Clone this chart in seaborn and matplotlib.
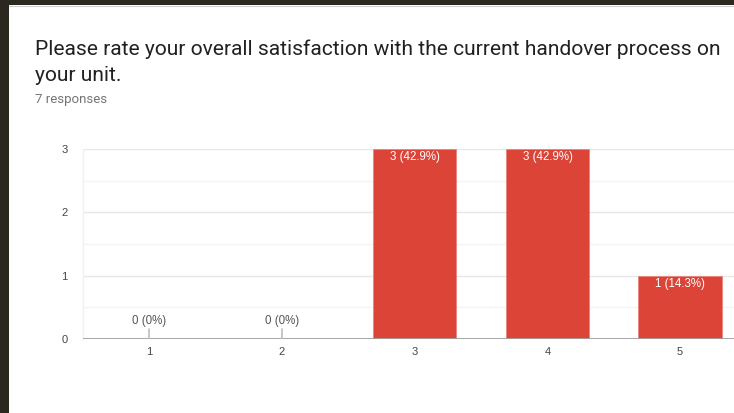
import matplotlib
matplotlib.use("Agg")
import matplotlib.pyplot as plt
import seaborn as sns
import pandas as pd
from matplotlib.ticker import MultipleLocator

# Survey responses per rating
ratings = ["1", "2", "3", "4", "5"]
counts = [0, 0, 3, 3, 1]
percent_labels = ["0%", "0%", "42.9%", "42.9%", "14.3%"]
y_ticks = [0, 1, 2, 3]

title_lines = ["Please rate your overall satisfaction with the current handover process on",
               "your unit."]
subtitle = "7 responses"

df = pd.DataFrame({"rating": ratings, "count": counts})

sns.set_theme(style="white")
plt.rcParams["font.family"] = ["Roboto", "DejaVu Sans"]
chart_font = ["Liberation Sans", "DejaVu Sans"]

W, H = 734, 413
fig = plt.figure(figsize=(W / 100, H / 100), dpi=100)
fig.patch.set_facecolor("white")

# dark frame along the top and left edges
dark = "#2b2820"
fig.add_artist(plt.Rectangle((0, 0), 8.5 / W, 1, transform=fig.transFigure,
                             facecolor=dark, edgecolor="none", zorder=10))
fig.add_artist(plt.Rectangle((0, 1 - 5 / H), 1, 5 / H, transform=fig.transFigure,
                             facecolor=dark, edgecolor="none", zorder=10))
fig.add_artist(plt.Line2D([8.5 / W, 1], [1 - 5.5 / H, 1 - 5.5 / H],
                          color="#cfcfcf", lw=0.8, transform=fig.transFigure, zorder=10))

fig.text(35 / W, 1 - 55 / H, title_lines[0], fontsize=15.1, color="#212121",
         va="baseline", ha="left")
fig.text(35 / W, 1 - 81 / H, title_lines[1], fontsize=15.1, color="#212121",
         va="baseline", ha="left")
fig.text(35 / W, 1 - 102.5 / H, subtitle, fontsize=9.5, color="#757575",
         va="baseline", ha="left")

ax_left, ax_right = 83, 746.5
ax_top, ax_bottom = 149, 339
ax = fig.add_axes([ax_left / W, 1 - ax_bottom / H,
                   (ax_right - ax_left) / W, (ax_bottom - ax_top) / H])
ax.set_facecolor("none")

sns.barplot(data=df, x="rating", y="count", color="#db4437", width=0.628,
            saturation=1, ax=ax, zorder=3, edgecolor="#e8847b", linewidth=0.6)

ax.set_xlim(-0.5, 4.5)
ax.set_ylim(0, 3)
ax.set_yticks(y_ticks)
ax.yaxis.set_minor_locator(MultipleLocator(0.5))
ax.grid(axis="y", which="major", color="#e8e8e8", lw=1, zorder=0)
ax.grid(axis="y", which="minor", color="#f4f4f4", lw=1, zorder=0)
for side in ["top", "right", "bottom"]:
    ax.spines[side].set_visible(False)
ax.spines["left"].set_color("#f0f0f0")
ax.spines["left"].set_linewidth(1)
ax.axhline(0, color="#9e9e9e", lw=2, zorder=4)

ax.tick_params(axis="both", which="both", length=0, labelsize=8, labelcolor="#444444")
ax.tick_params(axis="y", pad=11)
ax.tick_params(axis="x", pad=6)
for lbl in ax.get_xticklabels() + ax.get_yticklabels():
    lbl.set_family(chart_font)
ax.set_xlabel("")
ax.set_ylabel("")

px = 3 / (ax_bottom - ax_top)  # data units per pixel
for i, (c, p) in enumerate(zip(counts, percent_labels)):
    label = f"{c} ({p})"
    if c == 0:
        ax.plot([i, i], [0, 10 * px], color="#bdbdbd", lw=1.2, zorder=4)
        ax.text(i, 18 * px, label, ha="center", va="center", fontsize=8.3,
                color="#555555", zorder=5, family=chart_font)
    else:
        ax.text(i, c - 8 * px, label, ha="center", va="center", fontsize=8.3,
                color="white", zorder=5, family=chart_font)

fig.savefig("out.png", dpi=100, facecolor=fig.get_facecolor())
